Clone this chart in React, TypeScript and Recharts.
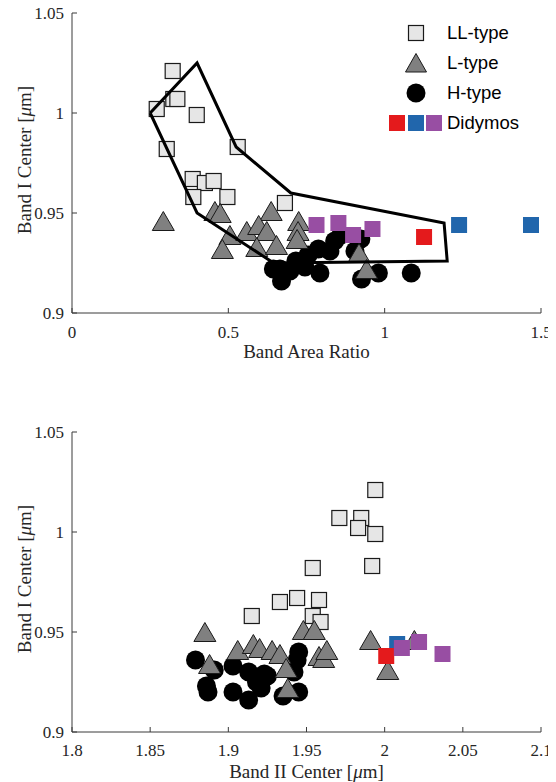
import React from 'react'
import { ScatterChart, Scatter, XAxis, YAxis } from 'recharts'

// top panel: band area ratio vs band I center
const llTop = [
  { x: 0.322, y: 1.021 }, { x: 0.271, y: 1.002 }, { x: 0.324, y: 1.007 }, { x: 0.337, y: 1.007 },
  { x: 0.399, y: 0.999 }, { x: 0.303, y: 0.982 }, { x: 0.53, y: 0.983 }, { x: 0.386, y: 0.967 },
  { x: 0.425, y: 0.965 }, { x: 0.453, y: 0.966 }, { x: 0.388, y: 0.958 }, { x: 0.497, y: 0.958 },
  { x: 0.681, y: 0.955 },
]
const lTop = [
  { x: 0.292, y: 0.946 }, { x: 0.457, y: 0.951 }, { x: 0.474, y: 0.95 }, { x: 0.637, y: 0.951 },
  { x: 0.725, y: 0.946 }, { x: 0.723, y: 0.941 }, { x: 0.72, y: 0.937 }, { x: 0.505, y: 0.939 },
  { x: 0.559, y: 0.941 }, { x: 0.597, y: 0.944 }, { x: 0.623, y: 0.941 }, { x: 0.591, y: 0.933 },
  { x: 0.654, y: 0.934 }, { x: 0.481, y: 0.932 }, { x: 0.918, y: 0.93 }, { x: 0.942, y: 0.922 },
]
const hTop = [
  { x: 0.644, y: 0.922 }, { x: 0.665, y: 0.922 }, { x: 0.67, y: 0.916 }, { x: 0.697, y: 0.921 },
  { x: 0.716, y: 0.926 }, { x: 0.745, y: 0.923 }, { x: 0.755, y: 0.929 }, { x: 0.788, y: 0.932 },
  { x: 0.793, y: 0.92 }, { x: 0.825, y: 0.931 }, { x: 0.84, y: 0.936 }, { x: 0.86, y: 0.939 },
  { x: 0.905, y: 0.931 }, { x: 0.924, y: 0.937 }, { x: 0.926, y: 0.917 }, { x: 0.98, y: 0.92 },
  { x: 1.085, y: 0.92 },
]
const didRedTop = [{ x: 1.126, y: 0.938 }]
const didBlueTop = [{ x: 1.238, y: 0.944 }, { x: 1.468, y: 0.944 }]
const didPurpleTop = [
  { x: 0.782, y: 0.944 }, { x: 0.852, y: 0.945 }, { x: 0.899, y: 0.939 }, { x: 0.961, y: 0.942 },
]
const ordinaryChondriteRegion = [
  { x: 0.25, y: 1.0 }, { x: 0.4, y: 1.025 }, { x: 0.525, y: 0.983 }, { x: 0.7, y: 0.96 },
  { x: 1.19, y: 0.945 }, { x: 1.2, y: 0.926 }, { x: 0.645, y: 0.925 }, { x: 0.4, y: 0.95 },
  { x: 0.25, y: 1.0 },
]

// bottom panel: band II center vs band I center
const llBottom = [
  { x: 1.994, y: 1.021 }, { x: 1.971, y: 1.007 }, { x: 1.985, y: 1.007 }, { x: 1.983, y: 1.002 },
  { x: 1.994, y: 0.999 }, { x: 1.992, y: 0.983 }, { x: 1.954, y: 0.982 }, { x: 1.933, y: 0.965 },
  { x: 1.944, y: 0.967 }, { x: 1.958, y: 0.966 }, { x: 1.954, y: 0.958 }, { x: 1.959, y: 0.955 },
  { x: 1.915, y: 0.958 },
]
const lBottom = [
  { x: 1.885, y: 0.95 }, { x: 1.888, y: 0.934 }, { x: 1.906, y: 0.941 }, { x: 1.916, y: 0.944 },
  { x: 1.92, y: 0.942 }, { x: 1.928, y: 0.941 }, { x: 1.933, y: 0.939 }, { x: 1.937, y: 0.932 },
  { x: 1.938, y: 0.922 }, { x: 1.948, y: 0.951 }, { x: 1.955, y: 0.951 }, { x: 1.958, y: 0.938 },
  { x: 1.961, y: 0.937 }, { x: 1.963, y: 0.941 }, { x: 1.991, y: 0.946 }, { x: 2.002, y: 0.931 },
  { x: 2.019, y: 0.946 },
]
const hBottom = [
  { x: 1.879, y: 0.936 }, { x: 1.886, y: 0.923 }, { x: 1.887, y: 0.92 }, { x: 1.891, y: 0.931 },
  { x: 1.903, y: 0.92 }, { x: 1.903, y: 0.933 }, { x: 1.913, y: 0.916 }, { x: 1.913, y: 0.93 },
  { x: 1.918, y: 0.925 }, { x: 1.921, y: 0.922 }, { x: 1.923, y: 0.929 }, { x: 1.925, y: 0.928 },
  { x: 1.935, y: 0.918 }, { x: 1.942, y: 0.93 }, { x: 1.945, y: 0.94 }, { x: 1.945, y: 0.92 },
  { x: 1.944, y: 0.936 },
]
const didRedBottom = [{ x: 2.001, y: 0.938 }]
const didBlueBottom = [{ x: 2.008, y: 0.944 }]
const didPurpleBottom = [{ x: 2.011, y: 0.942 }, { x: 2.022, y: 0.945 }, { x: 2.037, y: 0.939 }]

const yTicks = [0.9, 0.95, 1, 1.05]
const xTicksTop = [0, 0.5, 1, 1.5]
const xTicksBottom = [1.8, 1.85, 1.9, 1.95, 2, 2.05, 2.1]

const SERIF = '"Liberation Serif", "Times New Roman", serif'
const SANS = '"Liberation Sans", Arial, sans-serif'
const AX = '#3a3a3a'
const TXT = '#262626'
const RED = '#e41a1c'
const BLUE = '#2166ac'
const PURPLE = '#984ea3'

const LLShape = (p: any) => (
  <rect x={p.cx - 7.5} y={p.cy - 7.5} width={15} height={15} fill="#e6e6e6" stroke="#1a1a1a" strokeWidth={1.2} />
)
const LShape = (p: any) => (
  <polygon
    points={`${p.cx},${p.cy - 9.5} ${p.cx + 11},${p.cy + 9.5} ${p.cx - 11},${p.cy + 9.5}`}
    fill="#808080"
    stroke="#1a1a1a"
    strokeWidth={1}
  />
)
const HShape = (p: any) => <circle cx={p.cx} cy={p.cy} r={9.5} fill="#000" />
const solidSquare = (color: string) => (p: any) => (
  <rect x={p.cx - 8} y={p.cy - 8} width={16} height={16} fill={color} />
)
const NoShape = () => <g />

const tickStyle = { fontSize: 17, fill: TXT, fontFamily: SERIF }

const xTitle = (text: React.ReactNode, dy: number) => (props: any) => {
  const vb = props.viewBox
  return (
    <text x={vb.x + vb.width / 2} y={vb.y + dy} textAnchor="middle" fontSize={19} fontFamily={SERIF} fill={TXT}>
      {text}
    </text>
  )
}
const yTitle = (props: any) => {
  const vb = props.viewBox
  const cx = vb.x + 31
  const cy = vb.y + vb.height / 2 - 3
  return (
    <text x={cx} y={cy} transform={`rotate(-90, ${cx}, ${cy})`} textAnchor="middle" fontSize={19} fontFamily={SERIF} fill={TXT}>
      Band I Center [<tspan fontStyle="italic">{'\u03bc'}</tspan>m]
    </text>
  )
}

function Axes({ domain, ticks, title, titleDy, margin }: any) {
  return [
    <XAxis
      key="xb"
      xAxisId="b"
      type="number"
      dataKey="x"
      domain={domain}
      ticks={ticks}
      interval={0}
      allowDataOverflow
      tickSize={-5}
      tickMargin={margin}
      height={50}
      axisLine={{ stroke: AX }}
      tickLine={{ stroke: AX }}
      tick={tickStyle}
      label={xTitle(title, titleDy)}
    />,
    <XAxis
      key="xt"
      xAxisId="t"
      orientation="top"
      type="number"
      domain={domain}
      ticks={ticks}
      interval={0}
      allowDataOverflow
      tickSize={-5}
      height={0}
      axisLine={{ stroke: AX }}
      tickLine={{ stroke: AX }}
      tick={false}
    />,
    <YAxis
      key="yl"
      yAxisId="l"
      type="number"
      dataKey="y"
      domain={[0.9, 1.05]}
      ticks={yTicks}
      interval={0}
      allowDataOverflow
      tickSize={-5}
      tickMargin={13}
      width={72}
      axisLine={{ stroke: AX }}
      tickLine={{ stroke: AX }}
      tick={tickStyle}
      label={yTitle}
    />,
    <YAxis
      key="yr"
      yAxisId="r"
      orientation="right"
      type="number"
      domain={[0.9, 1.05]}
      ticks={yTicks}
      interval={0}
      allowDataOverflow
      tickSize={-5}
      width={0}
      axisLine={{ stroke: AX }}
      tickLine={{ stroke: AX }}
      tick={false}
    />,
  ]
}

const ids = { xAxisId: 'b', yAxisId: 'l', isAnimationActive: false }

function LegendBox() {
  const rows = [
    { label: 'LL-type', y: 33, marker: <rect x={3.5} y={2.5} width={15} height={15} fill="#e6e6e6" stroke="#1a1a1a" strokeWidth={1.2} /> },
    { label: 'L-type', y: 63, marker: <polygon points="11,0.5 21.5,19 0.5,19" fill="#808080" stroke="#1a1a1a" /> },
    { label: 'H-type', y: 93, marker: <circle cx={11} cy={10} r={9.5} fill="#000" /> },
  ]
  return (
    <div style={{ position: 'absolute', left: 0, top: 0, width: 556, height: 140, pointerEvents: 'none', fontFamily: SANS, fontSize: 18.5, color: '#000' }}>
      {rows.map((r) => (
        <React.Fragment key={r.label}>
          <svg style={{ position: 'absolute', left: 405, top: r.y - 10 }} width={22} height={20}>
            {r.marker}
          </svg>
          <div style={{ position: 'absolute', left: 447, top: r.y - 11, lineHeight: '22px' }}>{r.label}</div>
        </React.Fragment>
      ))}
      <svg style={{ position: 'absolute', left: 389, top: 115 }} width={54} height={16}>
        <rect x={0} y={0} width={16} height={16} fill={RED} />
        <rect x={19} y={0} width={16} height={16} fill={BLUE} />
        <rect x={37} y={0} width={16} height={16} fill={PURPLE} />
      </svg>
      <div style={{ position: 'absolute', left: 447, top: 112, lineHeight: '22px' }}>Didymos</div>
    </div>
  )
}

export default function App() {
  return (
    <div style={{ position: 'relative', width: 556, margin: '-8px 0 0 -8px' }}>
      <ScatterChart width={556} height={400} margin={{ top: 13, right: 15, bottom: 37, left: 0 }}>
        {Axes({ domain: [0, 1.5], ticks: xTicksTop, title: 'Band Area Ratio', titleDy: 45, margin: 18 })}
        <Scatter {...ids} data={hTop} shape={HShape} />
        <Scatter {...ids} data={llTop} shape={LLShape} />
        <Scatter {...ids} data={lTop} shape={LShape} />
        <Scatter {...ids} data={didBlueTop} shape={solidSquare(BLUE)} />
        <Scatter {...ids} data={didRedTop} shape={solidSquare(RED)} />
        <Scatter {...ids} data={didPurpleTop} shape={solidSquare(PURPLE)} />
        <Scatter
          {...ids}
          data={ordinaryChondriteRegion}
          shape={NoShape}
          line={{ stroke: '#000', strokeWidth: 3 }}
          lineJointType="linear"
        />
      </ScatterChart>
      <LegendBox />
      <ScatterChart width={556} height={382} margin={{ top: 32, right: 15, bottom: 0, left: 0 }}>
        {Axes({
          domain: [1.8, 2.1],
          ticks: xTicksBottom,
          title: (
            <>
              Band II Center [<tspan fontStyle="italic">{'\u03bc'}</tspan>m]
            </>
          ),
          titleDy: 46,
          margin: 17,
        })}
        <Scatter {...ids} data={hBottom} shape={HShape} />
        <Scatter {...ids} data={llBottom} shape={LLShape} />
        <Scatter {...ids} data={lBottom} shape={LShape} />
        <Scatter {...ids} data={didBlueBottom} shape={solidSquare(BLUE)} />
        <Scatter {...ids} data={didRedBottom} shape={solidSquare(RED)} />
        <Scatter {...ids} data={didPurpleBottom} shape={solidSquare(PURPLE)} />
      </ScatterChart>
    </div>
  )
}
